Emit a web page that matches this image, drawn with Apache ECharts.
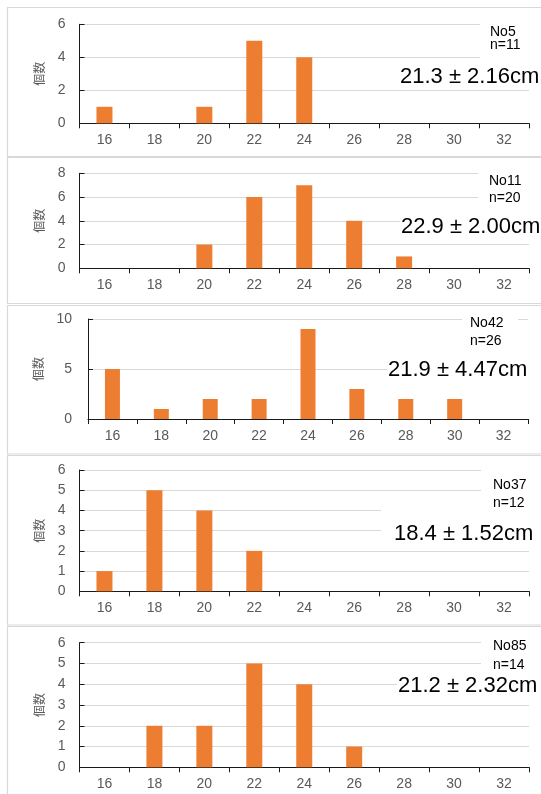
<!DOCTYPE html>
<html>
<head>
<meta charset="utf-8">
<script src="https://cdn.jsdelivr.net/npm/echarts@6/dist/echarts.min.js"></script>
<style>
html,body{margin:0;padding:0;background:#fff;}
#c{width:541px;height:794px;}
</style>
</head>
<body>
<div id="c"></div>
<script>
// ---- data ----
const categories = ['16','18','20','22','24','26','28','30','32'];
const no5  = [1,0,1,5,4,0,0,0,0];
const no11 = [0,0,2,6,7,4,1,0,0];
const no42 = [5,1,2,2,9,3,2,2,0];
const no37 = [1,5,4,2,0,0,0,0,0];
const no85 = [0,2,2,5,4,1,0,0,0];
const panelNames = ['No5','No11','No42','No37','No85'];
const panelN = ['n=11','n=20','n=26','n=12','n=14'];
const panelStats = ['21.3 ± 2.16cm','22.9 ± 2.00cm','21.9 ± 4.47cm','18.4 ± 1.52cm','21.2 ± 2.32cm'];
const yMaxes = [6,8,10,6,6];
const yIntervals = [2,2,5,1,1];
const yName = '個数';
const seriesList = [no5,no11,no42,no37,no85];

// ---- layout (styling only) ----
const layout = [
  {left:79.5, right:12, top:24.3, height:99,   nameGap:31, lblMargin:14, bw:16,
   border:[7.5,7.5,156.5], nameXY:[490,32.5], nXY:[490,45.5], statXY:[400,76.5],
   boxes:[[480,17,61,43]]},
  {left:79.5, right:12, top:173.3, height:95,  nameGap:31, lblMargin:14, bw:16,
   border:[7.5,157.5,303.5], nameXY:[489,181], nXY:[489,198], statXY:[401,226.5],
   boxes:[[478,166,63,38],[400,213,141,22]]},
  {left:88,   right:13, top:319,  height:100,  nameGap:40, lblMargin:16, bw:15,
   border:[7.5,305.5,454], nameXY:[470,323], nXY:[470,341], statXY:[388,370],
   boxes:[[462,313,56,36],[387,360,154,20]]},
  {left:79.5, right:12, top:470,  height:121.3,nameGap:31, lblMargin:14, bw:16,
   border:[7.5,455.5,625], nameXY:[493,485], nXY:[493,503.5], statXY:[394,534],
   boxes:[[481,464,60,32],[381,504,160,44]]},
  {left:79.5, right:12, top:642.7,height:124.6,nameGap:31, lblMargin:14, bw:16,
   border:[7.5,626.5,800], nameXY:[493,646], nXY:[493,665], statXY:[398,686],
   boxes:[[481,637,60,33],[397,676,144,21]]}
];

const FONT = '"Liberation Sans", Arial, "Noto Sans CJK JP", sans-serif';
const grids=[], xAxes=[], yAxes=[], series=[], graphics=[];

seriesList.forEach((vals,i)=>{
  const L = layout[i];
  grids.push({left:L.left, right:L.right, top:L.top, height:L.height});
  xAxes.push({
    type:'category', gridIndex:i, data:categories, boundaryGap:true,
    axisLine:{show:true, lineStyle:{color:'#1a1a1a', width:1}},
    axisTick:{show:true, alignWithLabel:false, inside:false, length:5, lineStyle:{color:'#1a1a1a'}},
    axisLabel:{color:'#595959', fontSize:14, fontFamily:FONT, margin:10, interval:0},
    splitLine:{show:false}
  });
  yAxes.push({
    type:'value', gridIndex:i, min:0, max:yMaxes[i], interval:yIntervals[i],
    name:yName, nameLocation:'middle', nameGap:L.nameGap, nameRotate:90,
    nameTextStyle:{color:'#595959', fontSize:12, fontFamily:FONT},
    axisLine:{show:true, lineStyle:{color:'#1a1a1a', width:1}},
    axisTick:{show:true, inside:true, length:5, lineStyle:{color:'#1a1a1a'}},
    axisLabel:{color:'#595959', fontSize:14, fontFamily:FONT, margin:L.lblMargin},
    splitLine:{show:true, lineStyle:{color:'#d9d9d9', width:1}}
  });
  series.push({
    type:'bar', xAxisIndex:i, yAxisIndex:i, data:vals, barWidth:L.bw,
    itemStyle:{color:'#ED7D31'}, silent:true, animation:false
  });
  const b = L.border;
  graphics.push({type:'rect', z:1, silent:true,
    shape:{x:b[0], y:b[1], width:560, height:b[2]-b[1]},
    style:{fill:'none', stroke:'#d9d9d9', lineWidth:1.2}});
  L.boxes.forEach(bx=>{
    graphics.push({type:'rect', z:50, silent:true,
      shape:{x:bx[0], y:bx[1], width:bx[2], height:bx[3]},
      style:{fill:'#ffffff'}});
  });
  graphics.push({type:'text', z:60, silent:true, x:L.nameXY[0], y:L.nameXY[1],
    style:{text:panelNames[i], font:'14px '+FONT, fill:'#000', align:'left', verticalAlign:'middle', textAlign:'left', textVerticalAlign:'middle'}});
  graphics.push({type:'text', z:60, silent:true, x:L.nXY[0], y:L.nXY[1],
    style:{text:panelN[i], font:'14px '+FONT, fill:'#000', align:'left', verticalAlign:'middle', textAlign:'left', textVerticalAlign:'middle'}});
  graphics.push({type:'text', z:60, silent:true, x:L.statXY[0], y:L.statXY[1],
    style:{text:panelStats[i], font:'22px '+FONT, fill:'#000', align:'left', verticalAlign:'middle', textAlign:'left', textVerticalAlign:'middle'}});
});

const chart = echarts.init(document.getElementById('c'), null, {renderer:'canvas'});
chart.setOption({
  animation:false,
  backgroundColor:'#ffffff',
  grid:grids, xAxis:xAxes, yAxis:yAxes, series:series,
  graphic:{elements:graphics}
});
</script>
</body>
</html>
